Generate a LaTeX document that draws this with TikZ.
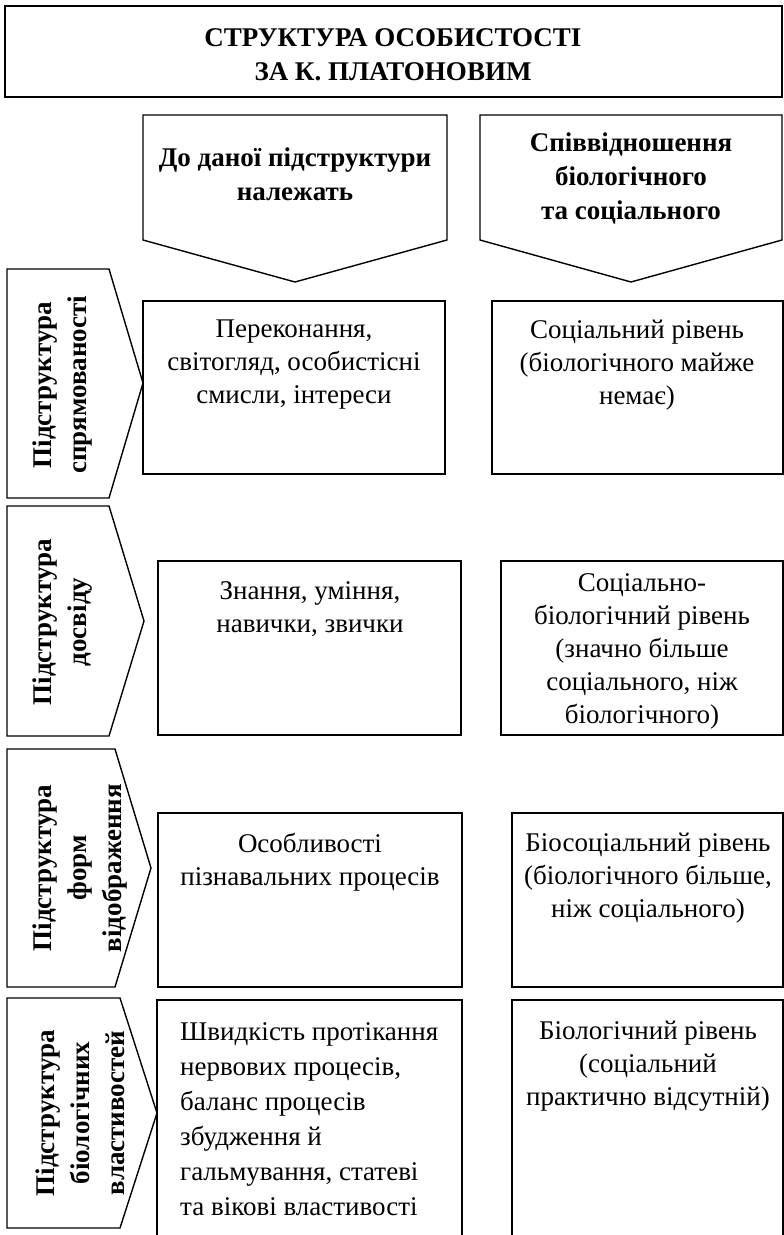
\documentclass[tikz,border=0pt]{standalone}
\usepackage{fontspec}
\setmainfont{Liberation Serif}
\usepackage{tikz}
\usetikzlibrary{positioning}

\begin{document}
\begin{tikzpicture}[x=1pt, y=-1pt,
    frame/.style={draw, line width=1.4pt},
    body/.style={inner sep=0pt, align=center, font=\fontsize{27}{33}\selectfont},
    head/.style={inner sep=0pt, align=center, font=\bfseries\fontsize{27}{34}\selectfont},
    side/.style={inner sep=0pt, align=center, rotate=90, font=\bfseries\fontsize{27}{35}\selectfont}]
    \useasboundingbox (0,0) rectangle (784,1235);

    % Title
    \draw [frame] (5,6) rectangle (782,97);
    \node [head, anchor=north] (title) at (393,28) {СТРУКТУРА ОСОБИСТОСТІ\\ ЗА К. ПЛАТОНОВИМ};

    % Column headers
    \draw [frame] (143,115) -- (447,115) -- (447,240) -- (295,282) -- (143,240) -- cycle;
    \draw [frame] (480,115) -- (782,115) -- (782,240) -- (631,282) -- (480,240) -- cycle;
    \node [head, anchor=north] (headA) at (295,148) {До даної підструктури\\ належать};
    \node [head, anchor=north] (headB) at (631,133) {Співвідношення\\ біологічного\\ та соціального};

    % Row labels
    \draw [frame] (7,269) -- (109,269) -- (143,383) -- (109,498) -- (7,498) -- cycle;
    \draw [frame] (7,506) -- (109,506) -- (144,621) -- (109,736) -- (7,736) -- cycle;
    \draw [frame] (7,749) -- (115,749) -- (151,868) -- (115,987) -- (7,987) -- cycle;
    \draw [frame] (7,998) -- (120,998) -- (157,1113) -- (120,1228) -- (7,1228) -- cycle;
    \node [side] (sideA) at (63,385) {Підструктура\\ спрямованості};
    \node [side] (sideB) at (63,622) {Підструктура\\ досвіду};
    \node [side] (sideC) at (80,868) {Підструктура\\ форм\\ відображення};
    \node [side] (sideD) at (80,1113) {Підструктура\\ біологічних\\ властивостей};

    % Row 1
    \draw [frame] (143,301) rectangle (445,474);
    \draw [frame] (492,301) rectangle (783,474);
    \node [body, anchor=north] (oneA) at (294,320) {Переконання,\\ світогляд, особистісні\\ смисли, інтереси};
    \node [body, anchor=north] (oneB) at (637,320) {Соціальний рівень\\ (біологічного майже\\ немає)};

    % Row 2
    \draw [frame] (158,561) rectangle (461,735);
    \draw [frame] (501,561) rectangle (783,735);
    \node [body, anchor=north] (twoA) at (310,581) {Знання, уміння,\\ навички, звички};
    \node [body, anchor=north] (twoB) at (642,573) {Соціально-\\ біологічний рівень\\ (значно більше\\ соціального, ніж\\ біологічного)};

    % Row 3
    \draw [frame] (158,813) rectangle (462,987);
    \draw [frame] (512,813) rectangle (783,987);
    \node [body, anchor=north] (threeA) at (310,833) {Особливості\\ пізнавальних процесів};
    \node [body, anchor=north] (threeB) at (648,833) {Біосоціальний рівень\\ (біологічного більше,\\ ніж соціального)};

    % Row 4 (boxes run off the page)
    \draw [frame] (157,1240) -- (157,1000) -- (462,1000) -- (462,1240);
    \draw [frame] (512,1240) -- (512,1000) -- (783,1000) -- (783,1240);
    \node [body, anchor=north west, align=left, font=\fontsize{27}{35}\selectfont] (fourA) at (180,1022)
        {Швидкість протікання\\ нервових процесів,\\ баланс процесів\\ збудження й\\ гальмування, статеві\\ та вікові властивості};
    \node [body, anchor=north] (fourB) at (648,1021) {Біологічний рівень\\ (соціальний\\ практично відсутній)};
\end{tikzpicture}
\end{document}
